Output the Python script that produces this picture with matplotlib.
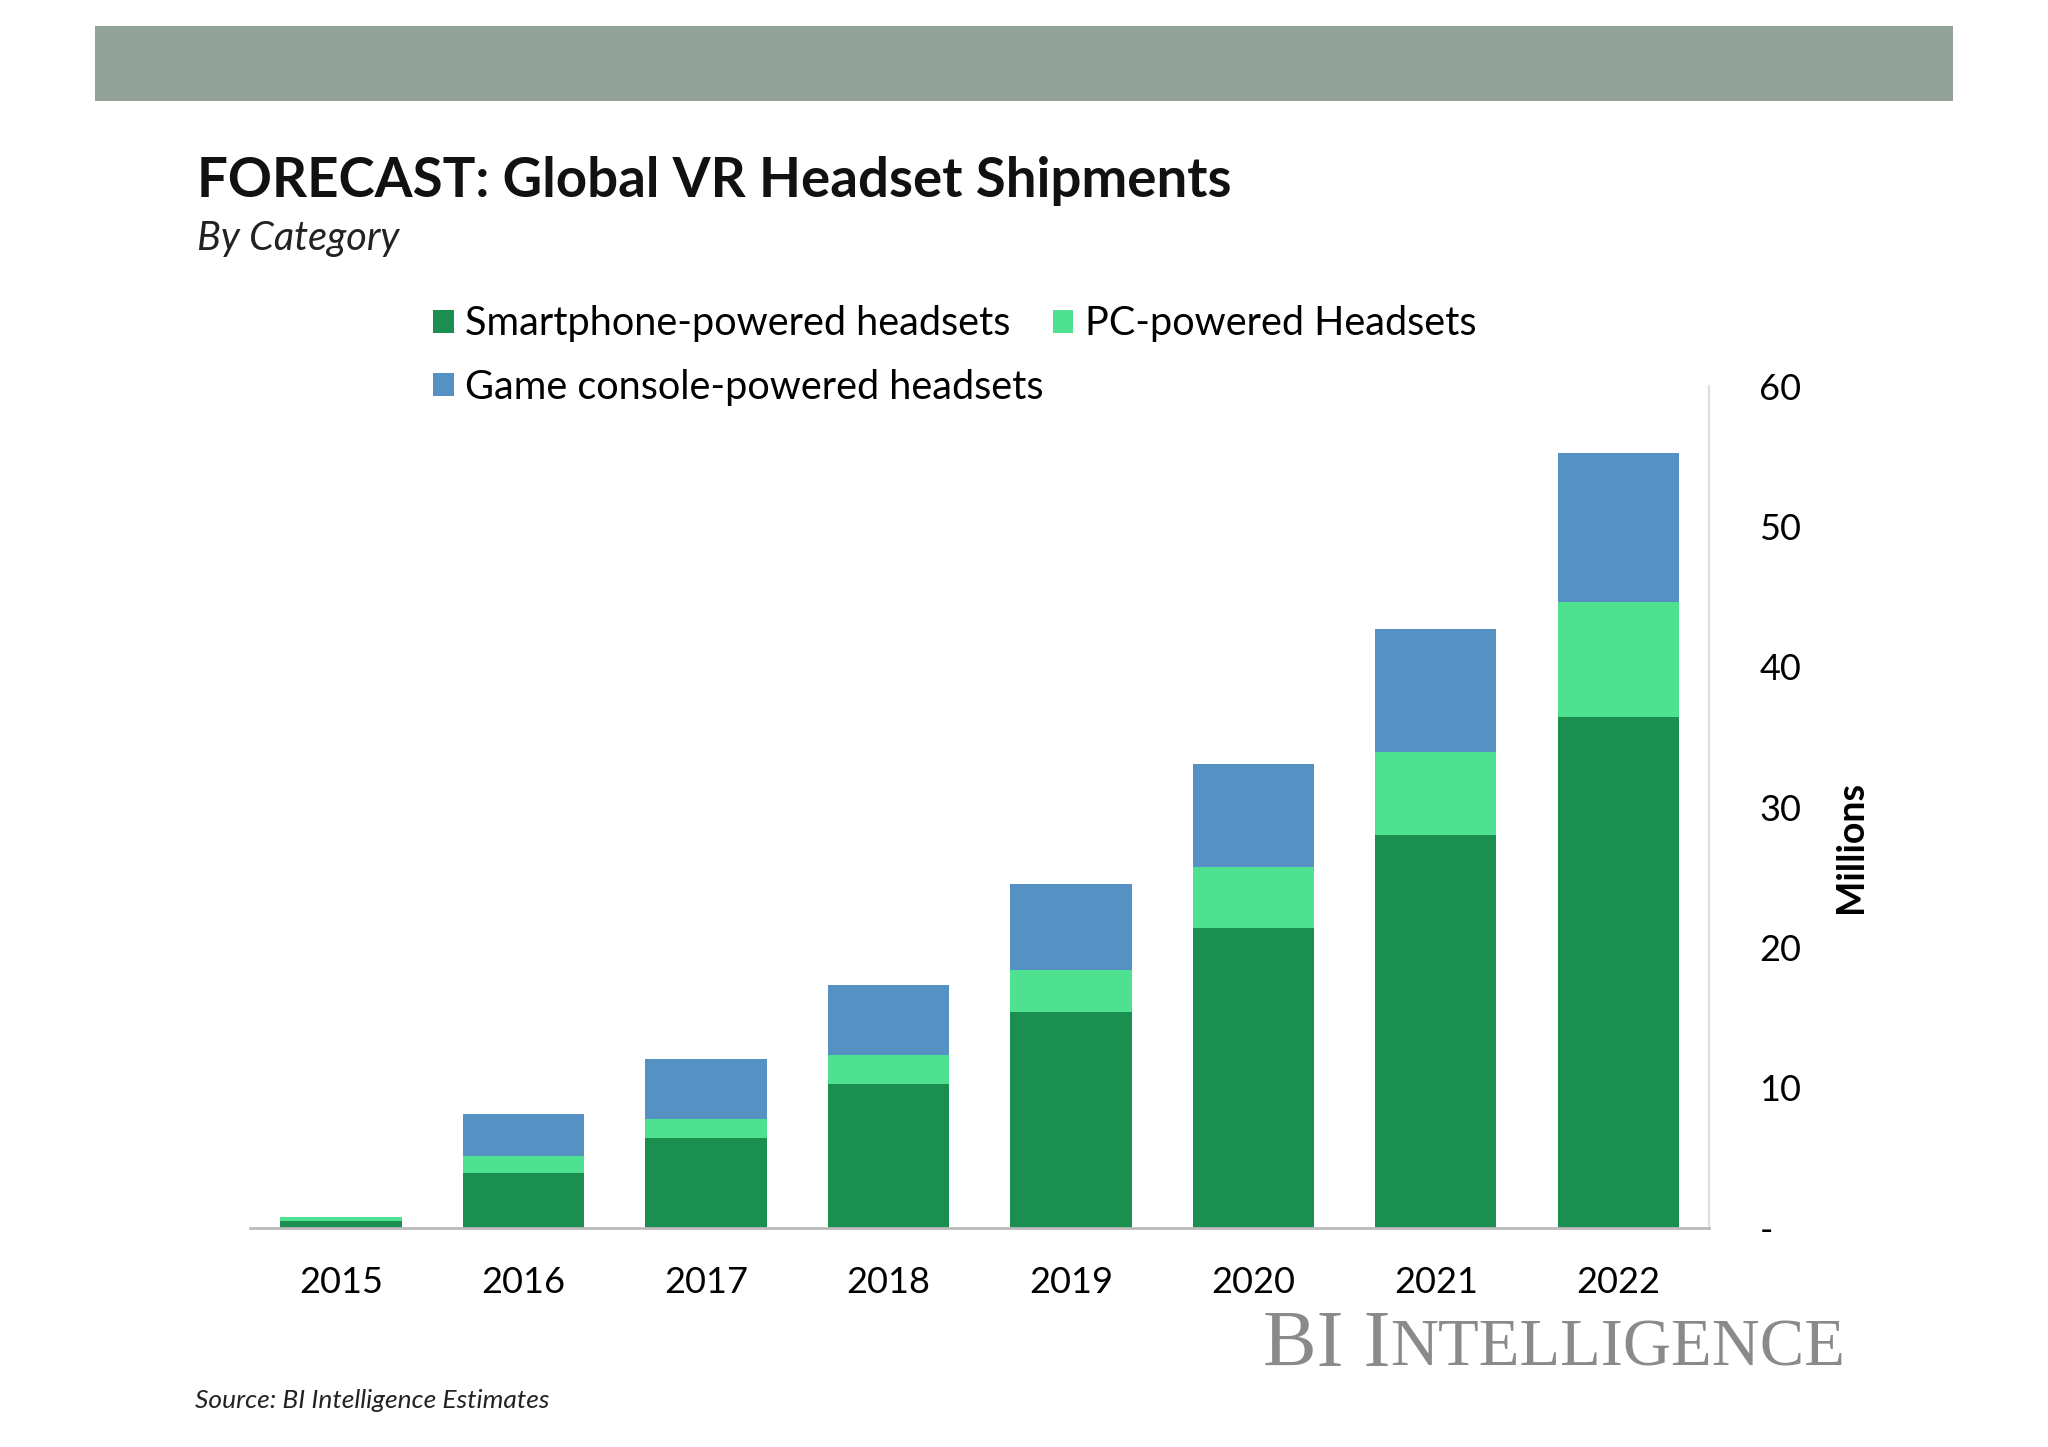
import numpy as np
import matplotlib.pyplot as plt
from matplotlib.patches import Rectangle

# data (millions of units)
years = ['2015', '2016', '2017', '2018', '2019', '2020', '2021', '2022']
smartphone = [0.5, 3.95, 6.4, 10.25, 15.4, 21.4, 28.0, 36.4]
pc = [0.3, 1.2, 1.4, 2.05, 3.0, 4.3, 5.9, 8.2]
console = [0.0, 3.0, 4.25, 5.0, 6.1, 7.4, 8.8, 10.6]
yticks = [0, 10, 20, 30, 40, 50, 60]
yticklabels = ['-', '10', '20', '30', '40', '50', '60']

plt.rcParams['font.family'] = ['Lato', 'DejaVu Sans']

fig = plt.figure(figsize=(20.48, 14.47), dpi=100)

# gray header band
fig.patches.append(Rectangle((0.0464, 0.930), 0.907, 0.052, transform=fig.transFigure,
                             facecolor='#93a39a', edgecolor='none'))

fig.text(0.0962, 0.864, 'FORECAST: Global VR Headset Shipments', fontsize=39.3,
         fontweight='bold', va='baseline', ha='left', color='#111111')
fig.text(0.0962, 0.827, 'By Category', fontsize=28.5, style='italic',
         va='baseline', ha='left', color='#222222')

ax = fig.add_axes([0.122, 0.1513, 0.7127, 0.5819])
x = np.arange(len(years))
w = 0.665
b1 = ax.bar(x, smartphone, w, color='#1a8f50', label='Smartphone-powered headsets')
b2 = ax.bar(x, pc, w, bottom=smartphone, color='#4de190', label='PC-powered Headsets')
bottom3 = np.array(smartphone) + np.array(pc)
b3 = ax.bar(x, console, w, bottom=bottom3, color='#5592c3', label='Game console-powered headsets')

ax.set_xlim(-0.5, 7.5)
ax.set_ylim(0, 60)
ax.set_xticks(x)
ax.set_xticklabels(years, fontsize=26)
ax.yaxis.tick_right()
ax.set_yticks(yticks)
ax.set_yticklabels(yticklabels, fontsize=26)
ax.tick_params(axis='y', length=0, pad=36)
ax.tick_params(axis='x', length=0, pad=27)
ax.spines['top'].set_visible(False)
ax.spines['left'].set_visible(False)
ax.spines['right'].set_color('#dddddd')
ax.spines['right'].set_linewidth(1.5)
ax.spines['bottom'].set_color('#bbbbbb')
ax.spines['bottom'].set_linewidth(2)

fig.text(0.904, 0.415, 'Millions', rotation=90, fontsize=27, fontweight='bold',
         ha='center', va='center')

fig.legend([b1, b3, b2],
           ['Smartphone-powered headsets', 'Game console-powered headsets', 'PC-powered Headsets'],
           ncol=2, loc='upper left', bbox_to_anchor=(0.2114, 0.789), frameon=False,
           fontsize=28.5, handlelength=0.52, handleheight=0.52, handletextpad=0.3,
           columnspacing=0.22, labelspacing=0.67, borderpad=0, borderaxespad=0)

# watermark (small caps look: big initials, smaller rest)
wm_rest = fig.text(0.901, 0.056, 'NTELLIGENCE', fontsize=48, family='Liberation Serif',
                   color='#8a8a8a', ha='right', va='baseline')
fig.canvas.draw()
x_left = wm_rest.get_window_extent().x0 / fig.bbox.width
fig.text(x_left, 0.056, 'BI I', fontsize=58, family='Liberation Serif', color='#8a8a8a',
         ha='right', va='baseline')

fig.text(0.095, 0.027, 'Source: BI Intelligence Estimates', fontsize=19, style='italic',
         va='baseline', ha='left', color='#222222')

fig.savefig('out.png', dpi=100, facecolor='white')
